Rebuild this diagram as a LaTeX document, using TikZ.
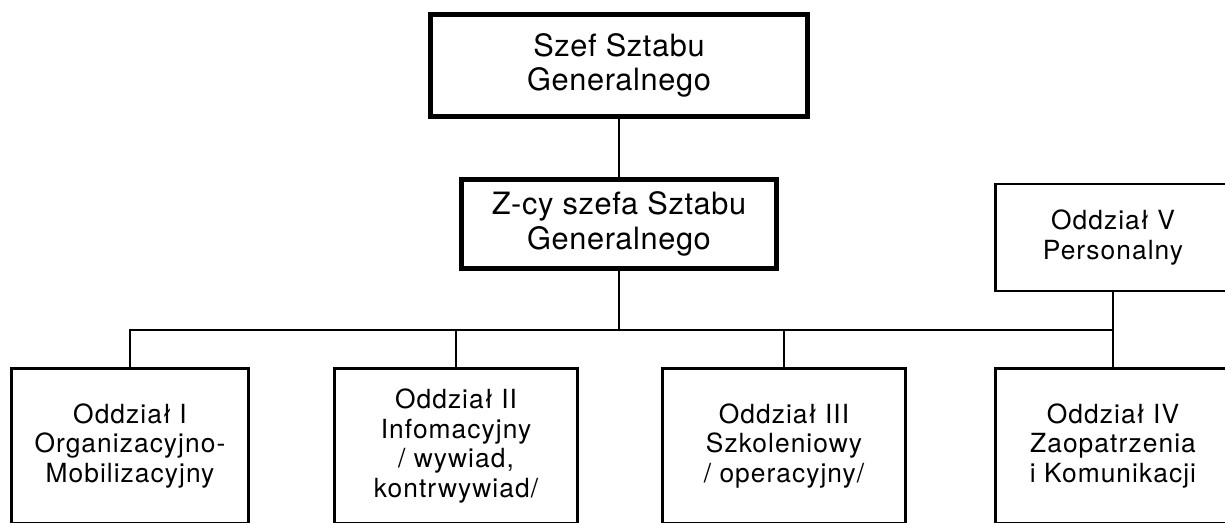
\documentclass[tikz,border=0pt]{standalone}
\usepackage{fontspec}
\setmainfont{TeX Gyre Heros}
\usetikzlibrary{positioning,calc}
\newcommand*{\duzy}{\fontsize{17.5}{19.5}\selectfont\addfontfeatures{LetterSpace=2}}
\newcommand*{\maly}{\fontsize{15}{17}\selectfont\addfontfeatures{LetterSpace=4}}

\begin{document}
\begin{tikzpicture}[x=0.02cm,y=-0.02cm,
  szef/.style={draw,line width=2.8pt,align=center,inner sep=0pt,font=\duzy},
  oddzial/.style={draw,line width=1.5pt,align=center,inner sep=0pt,
                  minimum height=3.1cm,font=\maly},
  linia/.style={line width=0.8pt}]
% Frame of the page (bottom row runs off the edge)
\useasboundingbox (0,0) rectangle (1225,523);
\clip (0,0) rectangle (1225,523);
% Chief and deputies
\node [szef,minimum width=7.55cm,minimum height=2.05cm] (szef) at (619,65.5)
  {Szef Sztabu\\Generalnego};
\node [szef,minimum width=6.3cm,minimum height=1.77cm] (zast) at (619,224)
  {Z-cy szefa Sztabu\\Generalnego};
% Personnel division on the right
\node [oddzial,line width=1.3pt,minimum width=4.7cm,minimum height=2.15cm] (odd5) at (1113,237.5)
  {Oddział V\\Personalny};
% Bottom row of divisions
\node [oddzial,minimum width=4.75cm] (odd1) at (130,446)
  {Oddział I\\Organizacyjno-\\Mobilizacyjny};
\node [oddzial,minimum width=4.85cm] (odd2) at (456,446)
  {Oddział II\\Infomacyjny\\/ wywiad,\\kontrwywiad/};
\node [oddzial,minimum width=4.85cm] (odd3) at (784,446)
  {Oddział III\\Szkoleniowy\\/ operacyjny/};
\node [oddzial,minimum width=4.7cm] (odd4) at (1113,446)
  {Oddział IV\\Zaopatrzenia\\i Komunikacji};
% Height of the common line
\coordinate (szyna) at (0,330);
% Connectors
\draw [linia] (szef.south) -- (zast.north);
\draw [linia] (zast.south) -- (zast.south |- szyna);
\draw [linia] (odd1.north) |- (odd4.north |- szyna);
\foreach \n in {2,3}
  \draw [linia] (odd\n.north) -- (odd\n.north |- szyna);
\draw [linia] (odd5.south) -- (odd4.north);
\end{tikzpicture}
\end{document}
